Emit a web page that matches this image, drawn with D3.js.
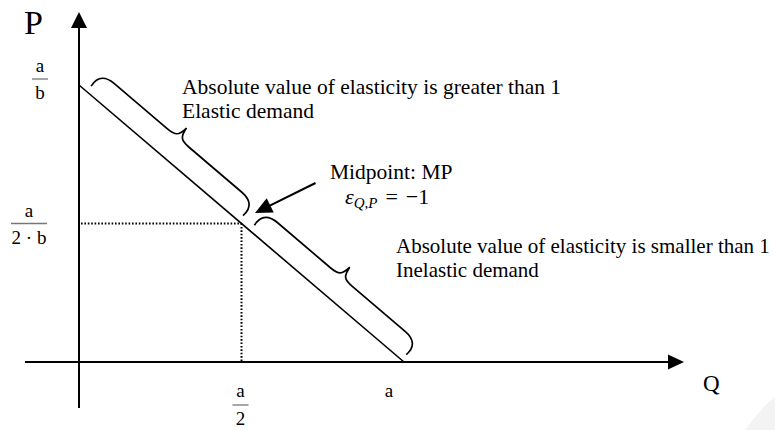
<!DOCTYPE html>
<html>
<head>
<meta charset="utf-8">
<script src="https://cdn.jsdelivr.net/npm/d3@7"></script>
<style>
  html, body { margin: 0; padding: 0; background: #fff; }
  svg { display: block; }
  text { font-family: "Liberation Serif", "Times New Roman", serif; fill: #000; }
</style>
</head>
<body>
<svg id="chart" width="775" height="430"></svg>
<script>
// Linear demand P = a/b - Q/b, expressed in units of the intercepts (a = 1, b = 1)
const demandQ = [0, 1];          // Q values at the two intercepts (0 and a)
const demandP = [1, 0];          // P values at the two intercepts (a/b and 0)
const midpoint = [0.5, 0.5];     // MP: Q = a/2, P = a/(2·b)
const elasticRange = [0, 0.5];   // share of the line above the midpoint
const inelasticRange = [0.5, 1]; // share of the line below the midpoint

const xTickValues = [0.5, 1];
const xTickLabels = [["a", "2"], ["a"]];
const yTickValues = [1, 0.5];
const yTickLabels = [["a", "b"], ["a", "2 · b"]];

const elasticText = ["Absolute value of elasticity is greater than 1", "Elastic demand"];
const inelasticText = ["Absolute value of elasticity is smaller than 1", "Inelastic demand"];
const midpointText = "Midpoint: MP";

const svg = d3.select("#chart");

const x = d3.scaleLinear().domain([0, 1]).range([79, 404]);
const y = d3.scaleLinear().domain([0, 1]).range([362, 85]);

// faint background arc in the lower-right corner
svg.append("circle").attr("cx", 880).attr("cy", 520).attr("r", 162)
  .attr("fill", "#f3f3f3");

// axes with arrowheads
const x0 = x(0), y0 = y(0);
svg.append("line").attr("x1", x0).attr("x2", x0).attr("y1", 408).attr("y2", 24)
  .attr("stroke", "#000").attr("stroke-width", 2);
svg.append("path").attr("d", `M${x0},12 L${x0 - 8},28 L${x0 + 8},28 Z`).attr("fill", "#000");
svg.append("line").attr("x1", 25).attr("x2", 672).attr("y1", y0).attr("y2", y0)
  .attr("stroke", "#000").attr("stroke-width", 2);
svg.append("path").attr("d", `M684,${y0} L668,${y0 - 7.5} L668,${y0 + 7.5} Z`).attr("fill", "#000");

// axis titles
svg.append("text").attr("x", 24).attr("y", 34).attr("font-size", 34).text("P");
svg.append("text").attr("x", 703).attr("y", 391).attr("font-size", 23).text("Q");

// demand line
const line = d3.line().x(d => x(d[0])).y(d => y(d[1]));
svg.append("path").datum(demandQ.map((q, i) => [q, demandP[i]]))
  .attr("d", line).attr("fill", "none").attr("stroke", "#000").attr("stroke-width", 1.6);

// dotted guides to the midpoint
const mx = x(midpoint[0]), my = y(midpoint[1]);
svg.append("line").attr("x1", x0 + 2).attr("x2", mx).attr("y1", my).attr("y2", my)
  .attr("stroke", "#000").attr("stroke-width", 2).attr("stroke-dasharray", "1.6,1.8");
svg.append("line").attr("x1", mx).attr("x2", mx).attr("y1", my).attr("y2", y0)
  .attr("stroke", "#000").attr("stroke-width", 2).attr("stroke-dasharray", "1.6,1.8");

// fraction labels: numerator baseline at `top`, bar and denominator below it
function fraction(g, cx, top, parts, size, barW, barGap, denGap) {
  g.append("text").attr("x", cx).attr("y", top).attr("text-anchor", "middle")
    .attr("font-size", size).text(parts[0]);
  if (parts.length > 1) {
    g.append("line").attr("x1", cx - barW / 2).attr("x2", cx + barW / 2)
      .attr("y1", top + barGap).attr("y2", top + barGap)
      .attr("stroke", "#777").attr("stroke-width", 1.3);
    g.append("text").attr("x", cx).attr("y", top + denGap).attr("text-anchor", "middle")
      .attr("font-size", size).text(parts[1]);
  }
}
const yLab = svg.append("g");
yTickValues.forEach((v, i) => {
  const wide = yTickLabels[i][1].length > 2;
  // the top label sits a little above the intercept so it clears the axis corner
  const top = y(v) - (wide ? 7 : 13);
  fraction(yLab, wide ? 29 : 40, top, yTickLabels[i], 19, wide ? 36 : 16, 7, 27);
});
const xLab = svg.append("g");
xTickValues.forEach((v, i) => {
  const lab = xTickLabels[i];
  fraction(xLab, lab.length > 1 ? x(v) - 1 : x(v) - 15, 397, lab, 19, 16, 8, 28);
});

// curly braces along the demand line
const p0 = [x(demandQ[0]), y(demandP[0])], p1 = [x(demandQ[1]), y(demandP[1])];
const len = Math.hypot(p1[0] - p0[0], p1[1] - p0[1]);
const ang = Math.atan2(p1[1] - p0[1], p1[0] - p0[0]) * 180 / Math.PI;
function bracePath(s0, s1) {
  const m = (s0 + s1) / 2, he = -7, hb = -24, ht = -37;
  return `M${s0},${he} C${s0 - 2},${hb + 4} ${s0 + 6},${hb} ${s0 + 16},${hb}` +
    ` L${m - 14},${hb} C${m - 4},${hb} ${m - 1},${hb - 2} ${m},${ht}` +
    ` C${m + 1},${hb - 2} ${m + 4},${hb} ${m + 14},${hb}` +
    ` L${s1 - 16},${hb} C${s1 - 6},${hb} ${s1 + 2},${hb + 4} ${s1},${he}`;
}
const braces = svg.append("g").attr("transform", `translate(${p0[0]},${p0[1]}) rotate(${ang})`);
[[elasticRange[0] * len + 10, elasticRange[1] * len - 4],
 [inelasticRange[0] * len + 11, inelasticRange[1] * len - 3]].forEach(r => {
  braces.append("path").attr("d", bracePath(r[0], r[1]))
    .attr("fill", "none").attr("stroke", "#000").attr("stroke-width", 1.7);
});

// region annotations
function block(lines, tx, ty, size) {
  lines.forEach((t, i) => svg.append("text").attr("x", tx).attr("y", ty + i * 24)
    .attr("font-size", size).text(t));
}
block(elasticText, 182, 94, 21.5);
block(inelasticText, 396, 253, 21);

// midpoint annotation and arrow
svg.append("text").attr("x", 330).attr("y", 179).attr("font-size", 21.5).text(midpointText);
const eps = svg.append("text").attr("x", 345).attr("y", 204).attr("font-size", 22);
eps.append("tspan").attr("font-style", "italic").text("ε");
eps.append("tspan").attr("font-style", "italic").attr("font-size", 15).attr("dy", 4).text("Q,P");
eps.append("tspan").attr("dy", -4).attr("dx", 8).text("=");
eps.append("tspan").attr("dx", 8).text("−1");

const tip = [mx + 13.5, my - 10.5], tail = [mx + 74, my - 40.5];
const dir = Math.atan2(tip[1] - tail[1], tip[0] - tail[0]);
svg.append("line").attr("x1", tail[0]).attr("y1", tail[1])
  .attr("x2", tip[0] - 12 * Math.cos(dir)).attr("y2", tip[1] - 12 * Math.sin(dir))
  .attr("stroke", "#000").attr("stroke-width", 2);
const hl = 17, hw = 8;
const bx = tip[0] - hl * Math.cos(dir), by = tip[1] - hl * Math.sin(dir);
svg.append("path").attr("d",
  `M${tip[0]},${tip[1]} L${bx + hw * Math.sin(dir)},${by - hw * Math.cos(dir)} L${bx - hw * Math.sin(dir)},${by + hw * Math.cos(dir)} Z`)
  .attr("fill", "#000");
</script>
</body>
</html>
